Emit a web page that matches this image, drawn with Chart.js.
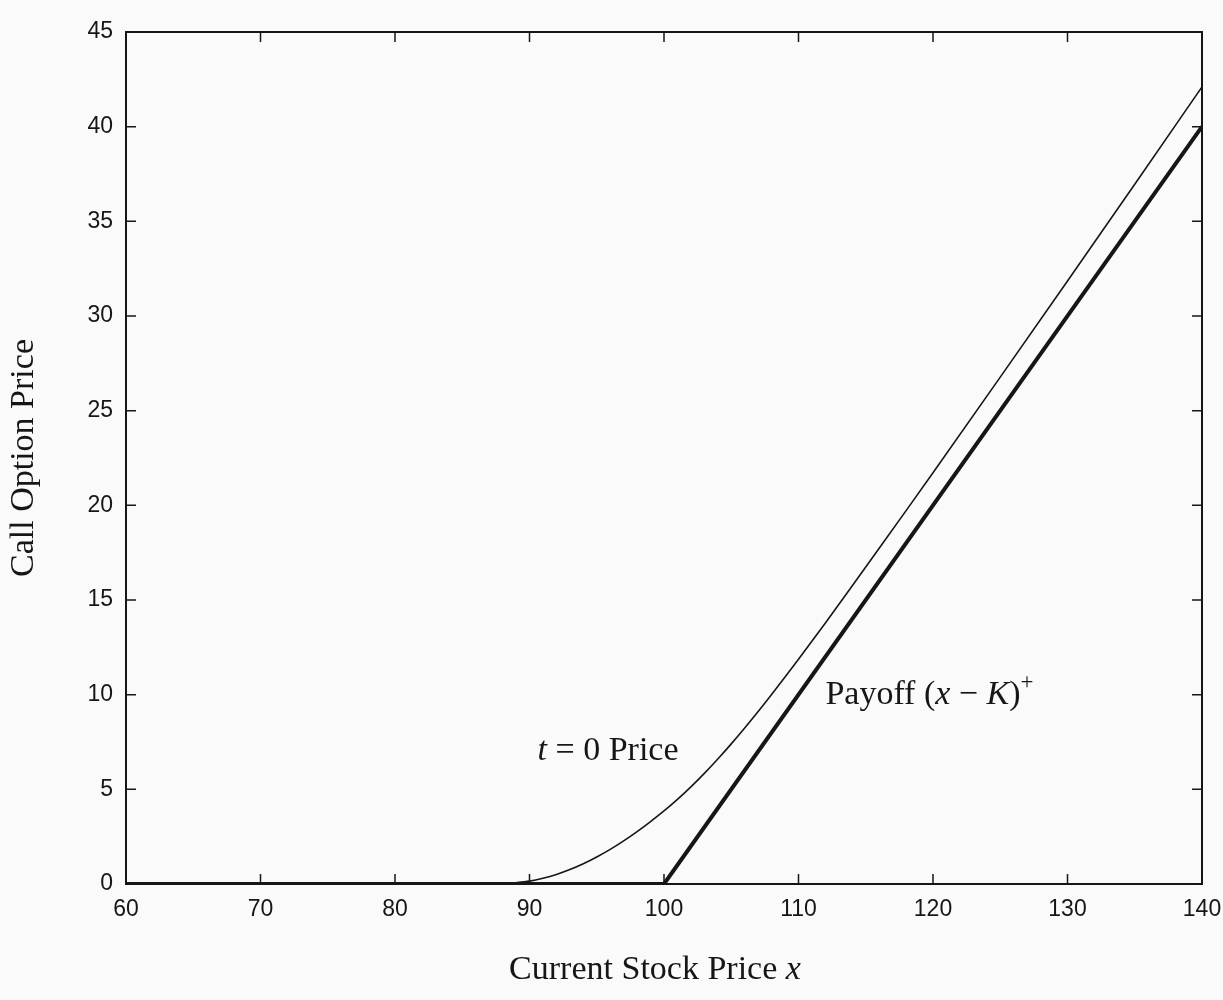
<!DOCTYPE html>
<html>
<head>
<meta charset="utf-8">
<title>Call Option Price</title>
<script src="https://cdn.jsdelivr.net/npm/chart.js@4.4.0/dist/chart.umd.min.js"></script>
<style>
  html, body { margin: 0; padding: 0; background: #fafafa; }
  #wrap { width: 1223px; height: 1000px; position: relative; }
</style>
</head>
<body>
<div id="wrap"><canvas id="optionChart"></canvas></div>
<script>
// values
const stockPrices = [60, 70, 80, 85, 87, 88, 89, 90, 91, 92, 93, 94, 95, 96, 97, 98, 99,
  100, 101, 102, 103, 104, 105, 106, 107, 108, 109, 110, 112, 114, 116, 118, 120, 125, 130, 135, 140];
const callPrices = [0, 0, 0, 0, 0.005, 0.02, 0.07, 0.15, 0.3, 0.5, 0.76, 1.07, 1.43, 1.83, 2.28, 2.77, 3.3,
  3.86, 4.47, 5.13, 5.84, 6.6, 7.4, 8.24, 9.11, 10.01, 10.93, 11.87, 13.79, 15.75, 17.73, 19.72, 21.72, 26.77, 31.85, 36.96, 42.1];
const payoffX = [60, 100, 140];
const payoffY = [0, 0, 40];
const xTickValues = [60, 70, 80, 90, 100, 110, 120, 130, 140];
const yTickValues = [0, 5, 10, 15, 20, 25, 30, 35, 40, 45];

const ink = '#161616';
const serif = '"Liberation Serif", "Times New Roman", serif';
const sans = '"Liberation Sans", Arial, sans-serif';

// frame, inward ticks, labels on the curves and the x title
const framePlugin = {
  id: 'frame',
  afterDraw(chart) {
    const { ctx, chartArea: a, scales } = chart;
    const x = scales.x, y = scales.y;
    const len = 10;
    ctx.save();
    ctx.strokeStyle = ink;
    ctx.lineWidth = 2;
    ctx.strokeRect(a.left, a.top, a.right - a.left, a.bottom - a.top);
    ctx.lineWidth = 1.5;
    ctx.beginPath();
    x.ticks.forEach(t => {
      const px = x.getPixelForValue(t.value);
      ctx.moveTo(px, a.bottom); ctx.lineTo(px, a.bottom - len);
      ctx.moveTo(px, a.top); ctx.lineTo(px, a.top + len);
    });
    y.ticks.forEach(t => {
      const py = y.getPixelForValue(t.value);
      ctx.moveTo(a.left, py); ctx.lineTo(a.left + len, py);
      ctx.moveTo(a.right, py); ctx.lineTo(a.right - len, py);
    });
    ctx.stroke();

    ctx.fillStyle = ink;
    ctx.textBaseline = 'middle';
    const drawParts = (parts, px, py) => {
      let cx = px;
      parts.forEach(p => {
        ctx.font = p.font;
        ctx.fillText(p.text, cx, py + (p.dy || 0));
        cx += ctx.measureText(p.text).width;
      });
      return cx - px;
    };
    const up = '34px ' + serif, it = 'italic 34px ' + serif;
    drawParts([{ text: 't', font: it }, { text: ' = 0 Price', font: up }],
      x.getPixelForValue(90.6), y.getPixelForValue(7.0));
    drawParts([
      { text: 'Payoff (', font: up }, { text: 'x', font: it }, { text: ' \u2212 ', font: up },
      { text: 'K', font: it }, { text: ')', font: up }, { text: '+', font: '23px ' + serif, dy: -12 }
    ], x.getPixelForValue(112.0), y.getPixelForValue(10.0));

    // x axis title
    const title = [{ text: 'Current Stock Price ', font: up }, { text: 'x', font: it }];
    let w = 0;
    title.forEach(p => { ctx.font = p.font; w += ctx.measureText(p.text).width; });
    drawParts(title, (a.left + a.right) / 2 - 9 - w / 2, 970);
    ctx.restore();
  }
};

new Chart(document.getElementById('optionChart'), {
  type: 'line',
  data: {
    datasets: [
      {
        label: 't = 0 Price',
        data: stockPrices.map((s, i) => ({ x: s, y: callPrices[i] })),
        borderColor: ink,
        borderWidth: 1.6,
        pointRadius: 0,
        cubicInterpolationMode: 'monotone',
        fill: false
      },
      {
        label: 'Payoff (x - K)+',
        data: payoffX.map((s, i) => ({ x: s, y: payoffY[i] })),
        borderColor: ink,
        borderWidth: 4,
        pointRadius: 0,
        tension: 0,
        fill: false
      }
    ]
  },
  options: {
    responsive: true,
    maintainAspectRatio: false,
    animation: false,
    layout: { padding: { top: 32, right: 21, left: 0, bottom: 0 } },
    plugins: {
      legend: { display: false },
      tooltip: { enabled: false }
    },
    scales: {
      x: {
        type: 'linear',
        min: 60,
        max: 140,
        afterBuildTicks: s => { s.ticks = xTickValues.map(v => ({ value: v })); },
        afterFit: s => { s.height = 116; s.paddingLeft = 0; s.paddingRight = 0; },
        grid: { display: false, drawTicks: false },
        border: { display: false },
        ticks: {
          padding: 12,
          color: ink,
          font: { family: sans, size: 23 }
        }
      },
      y: {
        type: 'linear',
        min: 0,
        max: 45,
        afterBuildTicks: s => { s.ticks = yTickValues.map(v => ({ value: v })); },
        afterFit: s => { s.width = 126; s.paddingTop = 0; s.paddingBottom = 0; },
        grid: { display: false, drawTicks: false },
        border: { display: false },
        ticks: {
          padding: 13,
          color: ink,
          font: { family: sans, size: 23 }
        },
        title: {
          display: true,
          text: 'Call Option Price',
          color: ink,
          padding: { top: 4, bottom: 0 },
          font: { family: serif, size: 34 }
        }
      }
    }
  },
  plugins: [framePlugin]
});
</script>
</body>
</html>
